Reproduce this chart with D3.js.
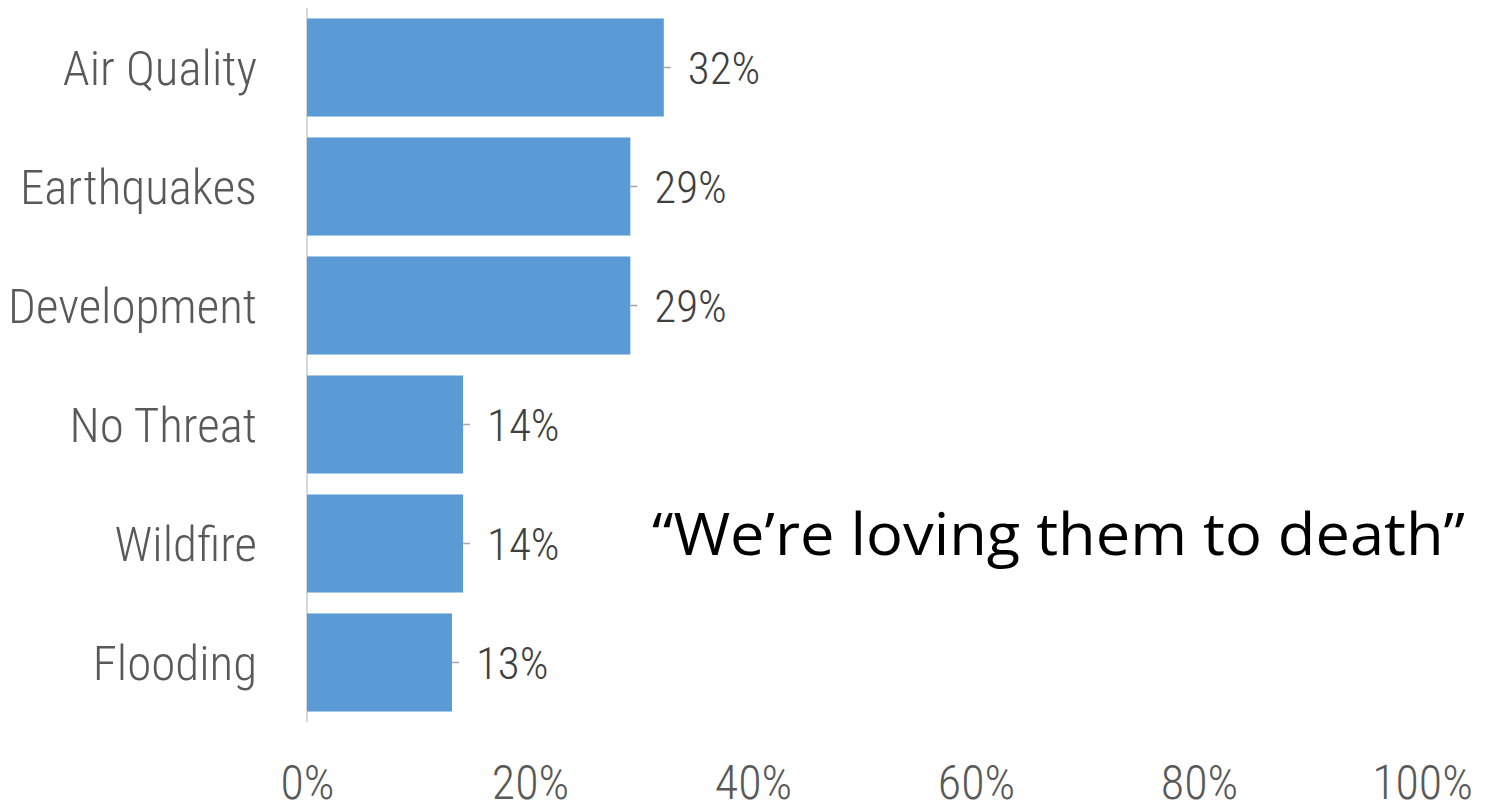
<!DOCTYPE html>
<html>
<head>
<meta charset="utf-8">
<script src="https://cdn.jsdelivr.net/npm/d3@7"></script>
<style>
  html, body { margin: 0; padding: 0; background: #fff; }
  svg { display: block; }
  .cond { font-family: "Roboto Condensed", "Liberation Sans Narrow", sans-serif; font-weight: 300; }
</style>
</head>
<body>
<svg id="chart" width="1489" height="812"></svg>
<script>
const categories = ["Air Quality", "Earthquakes", "Development", "No Threat", "Wildfire", "Flooding"];
const values = [0.32, 0.29, 0.29, 0.14, 0.14, 0.13];
const dataLabels = ["32%", "29%", "29%", "14%", "14%", "13%"];
const xTicks = [0, 0.2, 0.4, 0.6, 0.8, 1.0];
const quote = "\u201CWe\u2019re loving them to death\u201D";

const svg = d3.select("#chart");
const x = d3.scaleLinear().domain([0, 1]).range([307, 1422]);
const y = d3.scaleBand().domain(categories).range([8, 722]).paddingInner(0.176).paddingOuter(0.088);

// vertical axis line
svg.append("line")
  .attr("x1", x(0)).attr("x2", x(0))
  .attr("y1", 8).attr("y2", 722)
  .attr("stroke", "#d9d9d9").attr("stroke-width", 2);

// bars
svg.selectAll("rect.bar").data(categories).join("rect")
  .attr("class", "bar")
  .attr("x", x(0))
  .attr("y", d => y(d))
  .attr("width", (d, i) => x(values[i]) - x(0))
  .attr("height", y.bandwidth())
  .attr("fill", "#5b9bd5");

// leader ticks
svg.selectAll("line.leader").data(categories).join("line")
  .attr("class", "leader")
  .attr("x1", (d, i) => x(values[i]))
  .attr("x2", (d, i) => x(values[i]) + 7)
  .attr("y1", d => y(d) + y.bandwidth() / 2)
  .attr("y2", d => y(d) + y.bandwidth() / 2)
  .attr("stroke", "#a6a6a6").attr("stroke-width", 1.5);

// data labels
svg.selectAll("text.dl").data(categories).join("text")
  .attr("class", "dl cond")
  .attr("x", (d, i) => x(values[i]) + 24)
  .attr("y", d => y(d) + y.bandwidth() / 2 + 16)
  .attr("font-size", 45)
  .attr("fill", "#404040")
  .text((d, i) => dataLabels[i]);

// category labels
svg.selectAll("text.cat").data(categories).join("text")
  .attr("class", "cat cond")
  .attr("x", 257)
  .attr("y", d => y(d) + y.bandwidth() / 2 + 17)
  .attr("text-anchor", "end")
  .attr("font-size", 49)
  .attr("fill", "#595959")
  .text(d => d);

// x axis tick labels
const xAxis = d3.axisBottom(x).tickValues(xTicks).tickFormat(d3.format(".0%")).tickSize(0).tickPadding(0);
const gx = svg.append("g").attr("transform", "translate(0,766)").call(xAxis);
gx.select(".domain").remove();
gx.selectAll("text")
  .attr("class", "cond")
  .attr("dy", null)
  .attr("y", 33)
  .attr("font-size", 48)
  .attr("font-family", null)
  .attr("fill", "#595959");

// quote
svg.append("text")
  .attr("x", 652)
  .attr("y", 555)
  .attr("font-family", "'Open Sans', 'Noto Sans', sans-serif")
  .attr("font-size", 59)
  .attr("fill", "#000")
  .attr("textLength", 813)
  .attr("lengthAdjust", "spacingAndGlyphs")
  .text(quote);
</script>
</body>
</html>
